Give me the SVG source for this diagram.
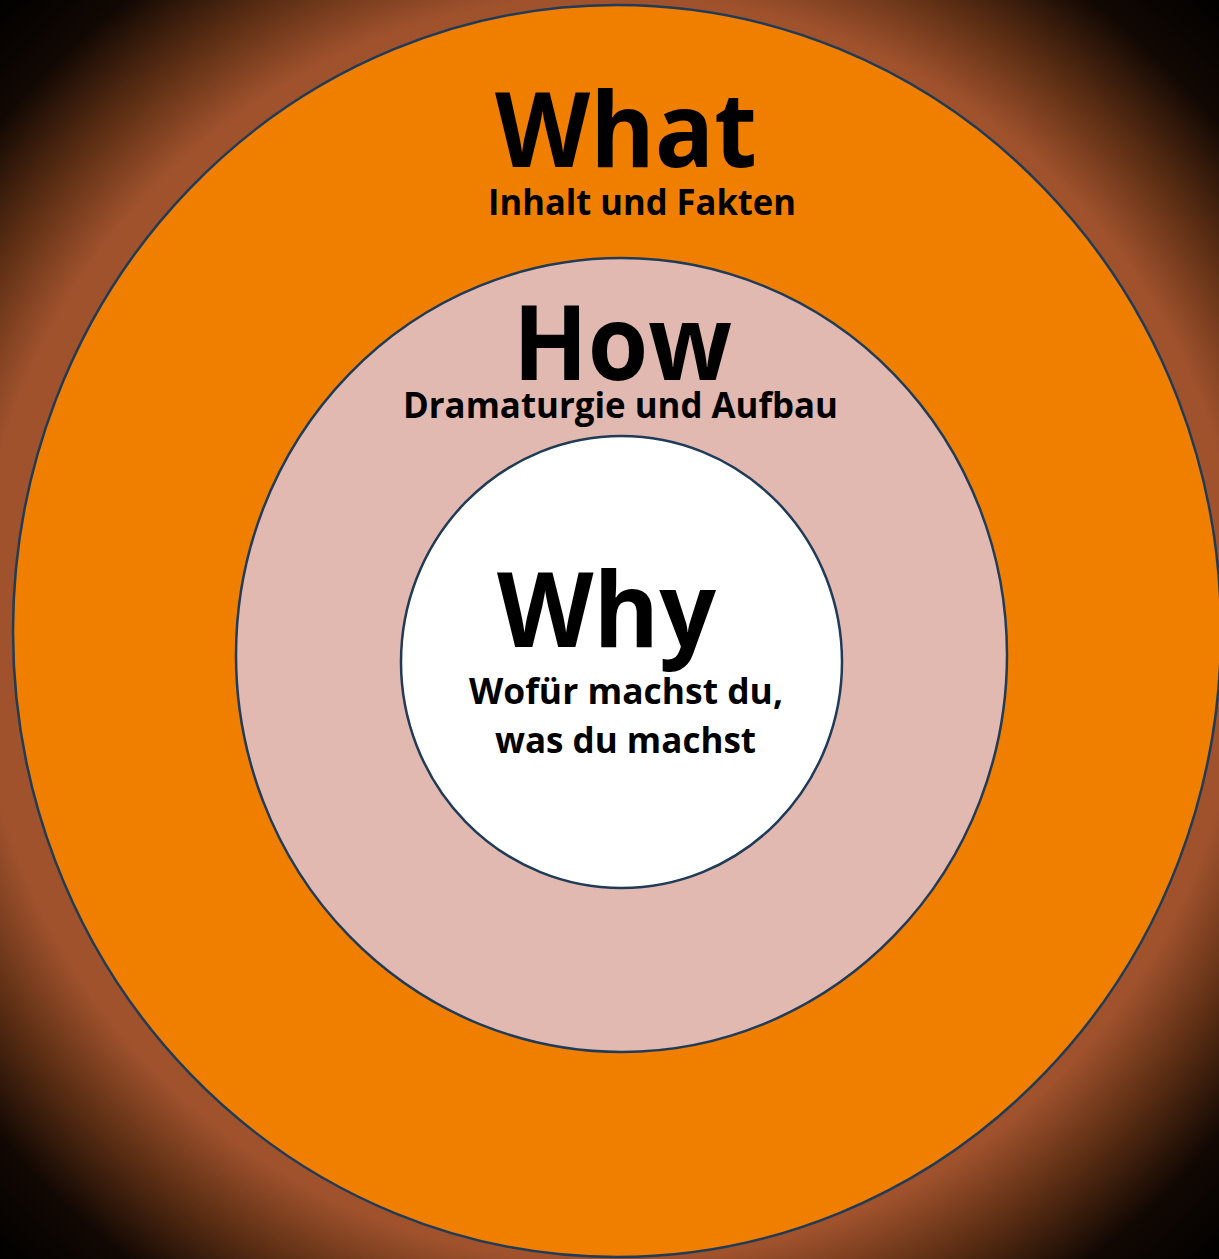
<svg xmlns="http://www.w3.org/2000/svg" width="1219" height="1259" viewBox="0 0 1219 1259">
  <defs>
    <radialGradient id="bg" gradientUnits="userSpaceOnUse" cx="609" cy="629" r="880">
      <stop offset="0" stop-color="#A0522D"/>
      <stop offset="0.72" stop-color="#A0522D"/>
      <stop offset="0.81" stop-color="#5A2D13"/>
      <stop offset="0.9" stop-color="#120803"/>
      <stop offset="1" stop-color="#000000"/>
    </radialGradient>
  </defs>
  <style>
    .ring { stroke: #1F3B57; stroke-width: 2.5; }
    .title { font-family: "Open Sans", "Liberation Sans", sans-serif; font-weight: 700; fill: #000; text-anchor: middle; }
    .big { font-size: 104px; }
    .sub { font-size: 36px; }
  </style>
  <rect x="0" y="0" width="1219" height="1259" fill="url(#bg)"/>
  <g id="what">
    <ellipse class="ring" cx="617" cy="631" rx="604" ry="626" fill="#F07F00"/>
    <text class="title big" x="626" y="167" textLength="262" lengthAdjust="spacingAndGlyphs">What</text>
    <text class="title sub" x="642" y="215" textLength="308" lengthAdjust="spacingAndGlyphs">Inhalt und Fakten</text>
  </g>
  <g id="how">
    <ellipse class="ring" cx="621.5" cy="655" rx="385.5" ry="397" fill="#E1B9B1"/>
    <text class="title big" x="622.5" y="380" textLength="219" lengthAdjust="spacingAndGlyphs">How</text>
    <text class="title sub" x="620.5" y="418" textLength="435" lengthAdjust="spacingAndGlyphs">Dramaturgie und Aufbau</text>
  </g>
  <g id="why">
    <ellipse class="ring" cx="621.5" cy="662" rx="220.5" ry="226" fill="#FFFFFF"/>
    <text class="title big" x="606.5" y="647" textLength="219" lengthAdjust="spacingAndGlyphs">Why</text>
    <text class="title sub" x="626" y="704" textLength="314" lengthAdjust="spacingAndGlyphs">Wofür machst du,</text>
    <text class="title sub" x="625.5" y="753" textLength="261" lengthAdjust="spacingAndGlyphs">was du machst</text>
  </g>
  <g id="connectors"/>
</svg>
